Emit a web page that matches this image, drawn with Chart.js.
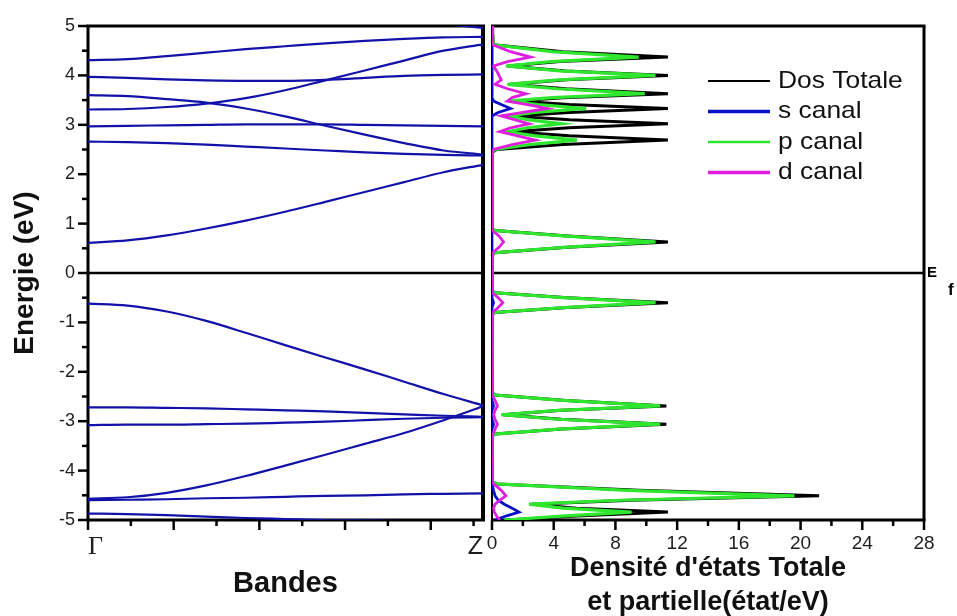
<!DOCTYPE html>
<html>
<head>
<meta charset="utf-8">
<script src="https://cdn.jsdelivr.net/npm/chart.js@4.4.1/dist/chart.umd.min.js"></script>
<style>
  html, body { margin: 0; background: #fff; }
  #wrap { position: relative; width: 957px; height: 616px; overflow: hidden; }
  canvas { position: absolute; top: 0; }
  #bands { left: 0; }
  #dos { left: 478px; }
</style>
</head>
<body>
<div id="wrap">
  <canvas id="bands" width="488" height="616"></canvas>
  <canvas id="dos" width="479" height="616"></canvas>
</div>
<script>
// k-path from Gamma to Z (sample positions along the path)
const kPoints = [0, 0.046, 0.092, 0.138, 0.184, 0.23, 0.277, 0.323, 0.369, 0.415, 0.461];
const kTicks = [0, 0.05, 0.1, 0.15, 0.2, 0.25, 0.3, 0.35, 0.4, 0.45, 0.461];

// conduction bands (eV)
const cb1 = [0.61, 0.66, 0.76, 0.90, 1.06, 1.24, 1.44, 1.64, 1.84, 2.04, 2.19];
const cb2 = [2.66, 2.65, 2.63, 2.60, 2.56, 2.52, 2.48, 2.44, 2.41, 2.39, 2.38];
const cb3 = [2.97, 2.98, 2.99, 3.00, 3.01, 3.01, 3.01, 3.00, 2.99, 2.98, 2.97];
const cb4 = [3.60, 3.58, 3.52, 3.45, 3.33, 3.17, 2.98, 2.80, 2.63, 2.48, 2.40];
const cb5 = [3.31, 3.32, 3.36, 3.43, 3.54, 3.70, 3.90, 4.10, 4.30, 4.50, 4.63];
const cb6 = [3.97, 3.95, 3.92, 3.90, 3.89, 3.89, 3.91, 3.95, 3.99, 4.01, 4.02];
const cb7 = [4.31, 4.33, 4.39, 4.46, 4.53, 4.59, 4.65, 4.70, 4.74, 4.77, 4.78];
const cb8 = [5.60, 5.55, 5.50, 5.45, 5.40, 5.35, 5.28, 5.20, 5.12, 5.04, 4.96];

// valence bands (eV)
const vb1 = [-0.62, -0.66, -0.78, -0.97, -1.21, -1.46, -1.71, -1.95, -2.20, -2.45, -2.68];
const vb2 = [-2.72, -2.72, -2.73, -2.74, -2.76, -2.78, -2.80, -2.83, -2.86, -2.89, -2.91];
const vb3 = [-3.08, -3.07, -3.07, -3.06, -3.05, -3.03, -3.01, -2.98, -2.95, -2.93, -2.92];
const vb4 = [-4.57, -4.54, -4.45, -4.30, -4.11, -3.90, -3.68, -3.46, -3.24, -2.98, -2.70];
const vb5 = [-4.60, -4.59, -4.58, -4.56, -4.55, -4.53, -4.51, -4.50, -4.48, -4.47, -4.46];
const vb6 = [-4.87, -4.88, -4.90, -4.93, -4.96, -4.98, -5.00, -5.01, -5.02, -5.02, -5.02];

// density of states, energy grid (eV) and the four curves (states/eV)
const dosEnergy = [
  5.00, 4.62, 4.48, 4.37, 4.28, 4.19, 4.09, 4.00, 3.91, 3.82, 3.73, 3.63, 3.55, 3.48,
  3.41, 3.33, 3.25, 3.18, 3.10, 3.02, 2.94, 2.86, 2.78, 2.69, 2.60, 2.50, 2.44,
  0.90, 0.86, 0.75, 0.63, 0.52, 0.41, 0.36,
  -0.36, -0.40, -0.50, -0.60, -0.70, -0.80, -0.84,
  -2.42, -2.47, -2.58, -2.69, -2.78, -2.87, -2.96, -3.06, -3.16, -3.26, -3.30,
  -4.22, -4.27, -4.40, -4.51, -4.60, -4.68, -4.76, -4.84, -4.92, -5.00
];
const dosTotal = [
  0, 0.1, 4.6, 11.4, 4.4, 1.0, 4.8, 11.4, 4.8, 1.2, 4.8, 11.4, 4.6, 1.6,
  5.0, 11.4, 5.0, 1.4, 5.0, 11.4, 5.0, 1.3, 5.0, 11.4, 4.6, 0.3, 0,
  0, 0.2, 4.9, 11.4, 4.9, 0.2, 0,
  0, 0.2, 4.9, 11.4, 4.9, 0.2, 0,
  0, 0.2, 4.8, 11.3, 4.5, 0.7, 4.5, 11.3, 4.5, 0.2, 0,
  0, 0.3, 9.5, 21.2, 9.0, 2.6, 5.5, 11.4, 5.5, 1.0
];
const dosS = [
  0, 0, 0, 0, 0, 0, 0, 0, 0, 0, 0, 0, 0.05, 0.1,
  0.6, 1.2, 0.4, 0, 0, 0, 0, 0, 0, 0, 0, 0, 0,
  0, 0, 0, 0, 0, 0, 0,
  0, 0, 0, 0.1, 0, 0, 0,
  0, 0, 0, 0.1, 0, 0, 0, 0.1, 0, 0, 0,
  0, 0, 0.1, 0.2, 0.4, 0.8, 1.3, 1.75, 0.9, 0.2
];
const dosP = [
  0, 0.1, 3.9, 9.5, 3.8, 0.9, 4.4, 10.6, 4.3, 1.0, 4.2, 9.9, 3.9, 1.1,
  3.0, 6.1, 2.8, 1.0, 2.4, 4.5, 2.3, 1.0, 2.7, 5.5, 2.4, 0.2, 0,
  0, 0.2, 4.6, 10.6, 4.6, 0.2, 0,
  0, 0.2, 4.6, 10.6, 4.6, 0.2, 0,
  0, 0.2, 4.6, 10.9, 4.3, 0.6, 4.3, 10.9, 4.3, 0.2, 0,
  0, 0.3, 8.8, 19.6, 8.3, 2.4, 4.6, 9.05, 4.5, 0.8
];
const dosD = [
  0, 0.05, 1.2, 2.5, 1.0, 0.1, 0.3, 0.45, 0.6, 0.2, 1.0, 2.2, 1.3, 1.0,
  2.3, 3.6, 2.0, 0.6, 1.5, 2.4, 1.2, 0.5, 1.6, 2.8, 1.3, 0.1, 0,
  0, 0.05, 0.45, 0.75, 0.45, 0.05, 0,
  0, 0.05, 0.4, 0.7, 0.4, 0.05, 0,
  0, 0.05, 0.2, 0.35, 0.2, 0.1, 0.2, 0.35, 0.2, 0.05, 0,
  0, 0.1, 0.6, 0.9, 0.5, 0.2, 0.1, 0.15, 0.3, 0.5
];

const energyTicks = { min: -5, max: 5 };
const dosTicks = { min: 0, max: 28 };

Chart.defaults.font.family = '"Liberation Sans", Arial, sans-serif';
Chart.defaults.color = '#1e1e1e';

// frame, Fermi line and tick marks (major / minor) drawn under the curves
const boxPlugin = {
  id: 'box',
  beforeDatasetsDraw(chart, args, opts) {
    const { ctx, chartArea: a } = chart;
    ctx.save();
    ctx.strokeStyle = '#000';
    const line = (w, x1, y1, x2, y2) => {
      ctx.lineWidth = w;
      ctx.beginPath();
      ctx.moveTo(x1, y1);
      ctx.lineTo(x2, y2);
      ctx.stroke();
    };
    const y0 = chart.scales.y.getPixelForValue(0);
    line(2.5, a.left, y0, a.right, y0);

    opts.marks.forEach(m => {
      const scale = chart.scales[m.axis];
      scale.ticks.forEach(tick => {
        if (m.skip && m.skip(tick.value)) return;
        const p = scale.getPixelForValue(tick.value);
        const len = m.major(tick.value) ? 10 : 6;
        if (m.axis === 'x') line(2.5, p, a.bottom, p, a.bottom + len);
        else line(2.5, a.left, p, a.left - len, p);
      });
    });

    const [wt, wr, wb, wl] = opts.widths;
    line(wt, a.left - wl / 2, a.top, a.right + wr / 2, a.top);
    line(wr, a.right, a.top, a.right, a.bottom);
    line(wb, a.left - wl / 2, a.bottom, a.right + wr / 2, a.bottom);
    line(wl, a.left, a.top, a.left, a.bottom);
    ctx.restore();
  }
};

// legend inside the DOS panel + E_f marker
const legendOrder = [3, 1, 2, 0];
const dosLegend = {
  id: 'dosLegend',
  afterDraw(chart) {
    const { ctx, chartArea: a } = chart;
    ctx.save();
    ctx.font = '24px "Liberation Sans", Arial, sans-serif';
    ctx.textBaseline = 'middle';
    legendOrder.forEach((idx, row) => {
      const ds = chart.data.datasets[idx];
      const y = a.top + 55 + row * 30.5;
      ctx.strokeStyle = ds.borderColor;
      ctx.lineWidth = ds.legendWidth;
      ctx.beginPath();
      ctx.moveTo(a.right - 216, y);
      ctx.lineTo(a.right - 154, y);
      ctx.stroke();
      ctx.save();
      ctx.translate(a.right - 146, y);
      ctx.scale(1.1, 1);
      ctx.fillStyle = '#111';
      ctx.fillText(ds.label, 0, 0);
      ctx.restore();
    });

    const y0 = chart.scales.y.getPixelForValue(0);
    ctx.fillStyle = '#000';
    ctx.textBaseline = 'middle';
    ctx.font = 'bold 15px "Liberation Sans", Arial, sans-serif';
    ctx.fillText('E', a.right + 3, y0);
    ctx.textBaseline = 'alphabetic';
    ctx.font = 'bold 17px "Liberation Sans", Arial, sans-serif';
    ctx.fillText('f', a.right + 24, y0 + 22);
    ctx.restore();
  }
};

const bandColor = '#1212aa';
const bandList = [cb1, cb2, cb3, cb4, cb5, cb6, cb7, cb8, vb1, vb2, vb3, vb4, vb5, vb6];

new Chart(document.getElementById('bands'), {
  type: 'scatter',
  data: {
    datasets: bandList.map(b => ({
      data: kPoints.map((k, i) => ({ x: k, y: b[i] })),
      showLine: true,
      borderColor: bandColor,
      borderWidth: 2.2,
      pointRadius: 0,
      cubicInterpolationMode: 'monotone'
    }))
  },
  options: {
    responsive: false,
    animation: false,
    events: [],
    layout: { padding: { top: 26, right: 5, left: 0, bottom: 0 } },
    plugins: {
      legend: { display: false },
      tooltip: { enabled: false },
      box: {
        widths: [3, 4, 3, 3],
        marks: [
          { axis: 'x', major: v => Math.round(v * 100) % 10 === 0, skip: v => v === kTicks[kTicks.length - 1] },
          { axis: 'y', major: v => Number.isInteger(v) }
        ]
      }
    },
    scales: {
      x: {
        type: 'linear',
        min: kPoints[0],
        max: kPoints[kPoints.length - 1],
        afterBuildTicks: s => { s.ticks = kTicks.map(v => ({ value: v })); },
        afterFit: s => { s.height = 96; },
        grid: { display: true, drawOnChartArea: false, drawTicks: true, tickLength: 12, tickColor: 'rgba(0,0,0,0)' },
        border: { display: false },
        ticks: {
          autoSkip: false,
          maxRotation: 0,
          padding: 0,
          align: 'inner',
          color: '#1e1e1e',
          font: c => c.index === 0
            ? { family: '"Liberation Serif", "Times New Roman", serif', size: 26 }
            : { size: 25 },
          callback: (v, i, t) => i === 0 ? 'Γ' : (i === t.length - 1 ? 'Z' : '')
        },
        title: {
          display: true,
          text: 'Bandes',
          color: '#111',
          font: { size: 29, weight: 'bold' },
          padding: { top: 0, bottom: 15 }
        }
      },
      y: {
        min: energyTicks.min,
        max: energyTicks.max,
        afterFit: s => { s.width = 88; },
        grid: { display: true, drawOnChartArea: false, drawTicks: true, tickLength: 11, tickColor: 'rgba(0,0,0,0)' },
        border: { display: false },
        ticks: {
          stepSize: 0.5,
          autoSkip: false,
          padding: 2,
          font: { size: 18 },
          callback: v => Number.isInteger(v) ? v : ''
        },
        title: {
          display: true,
          text: 'Energie (eV)',
          color: '#111',
          font: { size: 28, weight: 'bold' },
          padding: { top: 8, bottom: 0 }
        }
      }
    }
  },
  plugins: [boxPlugin]
});

// first dataset is drawn on top
const dosSeries = [
  { label: 'd canal', values: dosD, color: '#e01ee0', width: 2.8, legendWidth: 3.5 },
  { label: 's canal', values: dosS, color: '#0a10c8', width: 2.8, legendWidth: 3.5 },
  { label: 'p canal', values: dosP, color: '#2ee62e', width: 3.2, legendWidth: 2.5 },
  { label: 'Dos Totale', values: dosTotal, color: '#000000', width: 3, legendWidth: 2 }
];

new Chart(document.getElementById('dos'), {
  type: 'scatter',
  data: {
    datasets: dosSeries.map(s => ({
      label: s.label,
      data: dosEnergy.map((e, i) => ({ x: s.values[i], y: e })),
      showLine: true,
      borderColor: s.color,
      borderWidth: s.width,
      legendWidth: s.legendWidth,
      pointRadius: 0,
      tension: 0
    }))
  },
  options: {
    responsive: false,
    animation: false,
    events: [],
    layout: { padding: { top: 26, right: 33, left: 14, bottom: 0 } },
    plugins: {
      legend: { display: false },
      tooltip: { enabled: false },
      box: {
        widths: [3, 3, 3, 2],
        marks: [
          { axis: 'x', major: v => v % 4 === 0 }
        ]
      }
    },
    scales: {
      x: {
        type: 'linear',
        min: dosTicks.min,
        max: dosTicks.max,
        afterFit: s => { s.height = 96; },
        grid: { display: true, drawOnChartArea: false, drawTicks: true, tickLength: 12, tickColor: 'rgba(0,0,0,0)' },
        border: { display: false },
        ticks: {
          stepSize: 2,
          autoSkip: false,
          maxRotation: 0,
          padding: 0,
          font: { size: 19 },
          callback: v => v % 4 === 0 ? v : ''
        },
        title: {
          display: true,
          text: ["Densité d'états Totale", 'et partielle(état/eV)'],
          color: '#111',
          font: { size: 27, weight: 'bold', lineHeight: '34px' },
          padding: { top: 0, bottom: -4 }
        }
      },
      y: {
        display: false,
        min: energyTicks.min,
        max: energyTicks.max
      }
    }
  },
  plugins: [boxPlugin, dosLegend]
});
</script>
</body>
</html>
